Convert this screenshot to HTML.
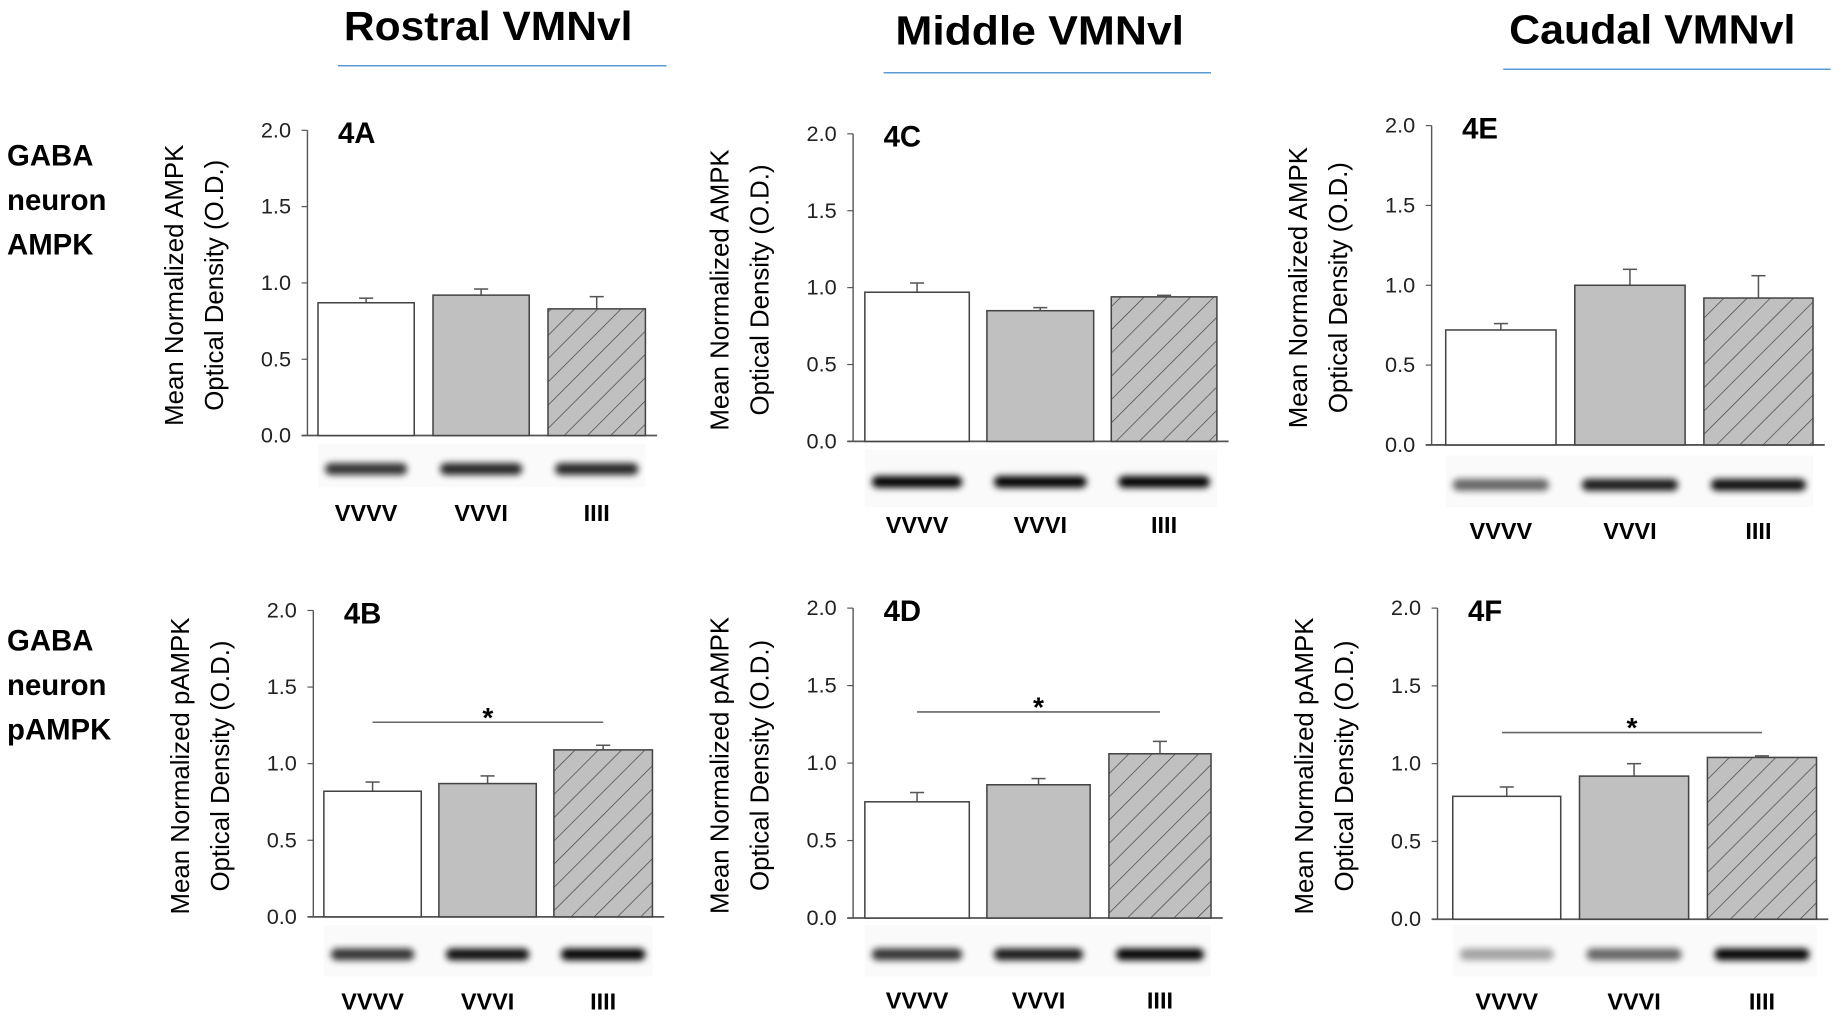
<!DOCTYPE html>
<html><head><meta charset="utf-8"><style>
html,body{margin:0;padding:0;background:#fff;}
svg{display:block;font-family:"Liberation Sans",sans-serif;}
</style></head><body>
<svg id="fig" width="1840" height="1019" viewBox="0 0 1568 868" preserveAspectRatio="none" xmlns="http://www.w3.org/2000/svg">
<defs>
<pattern id="hatch" patternUnits="userSpaceOnUse" width="14" height="14" patternTransform="rotate(45)">
<rect width="14" height="14" fill="#c0c0c0"/><line x1="0" y1="0" x2="0" y2="14" stroke="#444" stroke-width="1.2"/>
</pattern>
<filter id="blur" x="-20%" y="-100%" width="140%" height="300%"><feGaussianBlur stdDeviation="3"/></filter>
</defs>
<g>
<text x="416" y="34" font-size="35" font-weight="bold" text-anchor="middle" textLength="246" lengthAdjust="spacingAndGlyphs">Rostral VMNvl</text>
<line x1="288" y1="56" x2="568" y2="56" stroke="#5b9bd5" stroke-width="1.3"/>
<text x="886" y="38" font-size="35" font-weight="bold" text-anchor="middle" textLength="246" lengthAdjust="spacingAndGlyphs">Middle VMNvl</text>
<line x1="753" y1="62" x2="1032" y2="62" stroke="#5b9bd5" stroke-width="1.3"/>
<text x="1408" y="37" font-size="35" font-weight="bold" text-anchor="middle" textLength="244" lengthAdjust="spacingAndGlyphs">Caudal VMNvl</text>
<line x1="1281" y1="59" x2="1560" y2="59" stroke="#5b9bd5" stroke-width="1.3"/>
</g>
<g font-size="25" font-weight="bold">
<text x="6" y="141">GABA</text><text x="6" y="179">neuron</text><text x="6" y="217">AMPK</text>
</g>
<g font-size="25" font-weight="bold">
<text x="6" y="554">GABA</text><text x="6" y="592">neuron</text><text x="6" y="630">pAMPK</text>
</g>
<g id="panels"></g>
</svg>
<script>
const categories = ["VVVV","VVVI","IIII"];
const panelIds = ["4A","4B","4C","4D","4E","4F"];
const meansA = [0.87,0.92,0.83], errA = [0.90,0.96,0.91];
const meansB = [0.82,0.87,1.09], errB = [0.88,0.92,1.12];
const meansC = [0.97,0.85,0.94], errC = [1.03,0.87,0.95];
const meansD = [0.75,0.86,1.06], errD = [0.81,0.90,1.14];
const meansE = [0.72,1.00,0.92], errE = [0.76,1.10,1.06];
const meansF = [0.79,0.92,1.04], errF = [0.85,1.00,1.05];
const sigLevels = [null,1.27,null,1.33,null,1.20];
const yTicks = [0,0.5,1.0,1.5,2.0];
const tickLabels = ["0.0","0.5","1.0","1.5","2.0"];
const yTitles = ["AMPK","pAMPK","AMPK","pAMPK","AMPK","pAMPK"];
const blotDark = [[0.8,0.85,0.85],[0.8,0.95,1],[1,1,1],[0.8,0.9,1],[0.6,0.9,0.95],[0.35,0.6,1]];
const allMeans=[meansA,meansB,meansC,meansD,meansE,meansF];
const allErr=[errA,errB,errC,errD,errE,errF];
// layout (not data)
const L=[
 {ax:262,top:111,zero:371,bars:[[271,353],[369,451],[467,550]],xEnd:560,blotY:[378,415],labY:437},
 {ax:267,top:520,zero:781,bars:[[276,359],[374,457],[472,556]],xEnd:566,blotY:[788,832],labY:853},
 {ax:727,top:114,zero:376,bars:[[737,826],[841,932],[947,1037]],xEnd:1047,blotY:[383,432],labY:447},
 {ax:727,top:518,zero:782,bars:[[737,826],[841,929],[945,1032]],xEnd:1042,blotY:[788,832],labY:852},
 {ax:1220,top:107,zero:379,bars:[[1232,1326],[1342,1436],[1452,1545]],xEnd:1555,blotY:[388,432],labY:452},
 {ax:1225,top:518,zero:783,bars:[[1238,1330],[1346,1439],[1455,1548]],xEnd:1558,blotY:[788,832],labY:853}
];
const NS="http://www.w3.org/2000/svg";
function mk(t,a,p){const e=document.createElementNS(NS,t);for(const k in a)e.setAttribute(k,a[k]);p.appendChild(e);return e;}
const root=document.getElementById('panels');
panelIds.forEach((id,pi)=>{
 const l=L[pi];
 const y=v=>l.zero-(v/2)*(l.zero-l.top);
 const g=mk('g',{},root);
 
 
 const bl=mk('rect',{x:l.bars[0][0],y:l.blotY[0],width:l.bars[2][1]-l.bars[0][0],height:l.blotY[1]-l.blotY[0],fill:'#fafafa'},g);
 
 
 const bandY=(l.blotY[0]+l.blotY[1])/2+3;
 categories.forEach((c,i)=>{
  const b=l.bars[i];
  const band=mk('rect',{x:b[0]+6,y:bandY-5,width:b[1]-b[0]-12,height:10,rx:5,fill:'#000',opacity:blotDark[pi][i],filter:'url(#blur)'},g);
  
  
 });
 yTicks.forEach((t,i)=>{
  mk('line',{x1:l.ax-5,x2:l.ax,y1:y(t),y2:y(t),stroke:'#555','stroke-width':1},g);
  const tx=mk('text',{x:l.ax-14,y:y(t)+6,'font-size':18.5,'text-anchor':'end',fill:'#222'},g);
  tx.textContent=tickLabels[i];
  
  
 });
 mk('line',{x1:l.ax,x2:l.ax,y1:l.top,y2:l.zero,stroke:'#555','stroke-width':1.2},g);
 mk('line',{x1:l.ax-5,x2:l.xEnd,y1:l.zero,y2:l.zero,stroke:'#555','stroke-width':1.5},g);
 const cy=(l.top+l.zero)/2+2;
 const t1=mk('text',{x:0,y:0,'font-size':22,'text-anchor':'middle',transform:`translate(${l.ax-106},${cy}) rotate(-90)`},g);
 t1.textContent='Mean Normalized '+yTitles[pi];
 
 
 const t2=mk('text',{x:0,y:0,'font-size':22,'text-anchor':'middle',transform:`translate(${l.ax-72},${cy}) rotate(-90)`},g);
 t2.textContent='Optical Density (O.D.)';
 
 
 const pl=mk('text',{x:l.ax+26,y:l.top+11,'font-size':25,'font-weight':'bold'},g);
 pl.textContent=id;
 
 
 const fills=['#fff','#c0c0c0','url(#hatch)'];
 categories.forEach((c,i)=>{
  const b=l.bars[i],m=allMeans[pi][i],e=allErr[pi][i],cx=(b[0]+b[1])/2;
  mk('line',{x1:cx,x2:cx,y1:y(e),y2:y(m),stroke:'#555','stroke-width':1.3},g);
  mk('line',{x1:cx-6,x2:cx+6,y1:y(e),y2:y(e),stroke:'#555','stroke-width':1.3},g);
  const r=mk('rect',{x:b[0],y:y(m),width:b[1]-b[0],height:l.zero-y(m),fill:fills[i],stroke:'#444','stroke-width':1.3},g);
  
  
  const lt=mk('text',{x:cx,y:l.labY+7,'font-size':20,'font-weight':'bold','text-anchor':'middle'},g);
  lt.textContent=c;
  
  
 });
 if(sigLevels[pi]!==null){
  const c0=(l.bars[0][0]+l.bars[0][1])/2+(pi==5?-4:0),c2=(l.bars[2][0]+l.bars[2][1])/2;
  const sy=y(sigLevels[pi]);
  const sl=mk('line',{x1:c0,x2:c2,y1:sy,y2:sy,stroke:'#666','stroke-width':1.3},g);
  
  
  const st=mk('text',{x:(c0+c2)/2,y:sy+4,'font-size':24,'font-weight':'bold','text-anchor':'middle'},g);
  st.textContent='*';
  
  
 }
});
</script>
</body></html>
